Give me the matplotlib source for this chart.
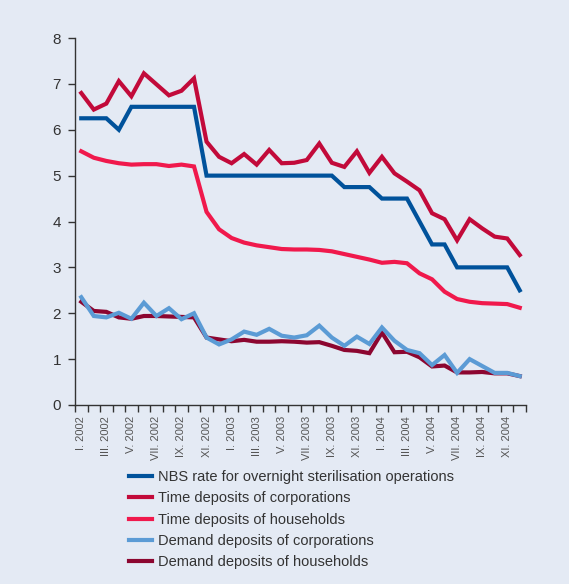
import matplotlib
matplotlib.use("Agg")
import matplotlib.pyplot as plt
import numpy as np

months = ["I", "II", "III", "IV", "V", "VI", "VII", "VIII", "IX", "X", "XI", "XII"]
years = [2002, 2003, 2004]
periods = [f"{m}. {y}" for y in years for m in months]

nbs_rate = [6.25, 6.25, 6.25, 6.0, 6.5, 6.5, 6.5, 6.5, 6.5, 6.5, 5.0, 5.0,
            5.0, 5.0, 5.0, 5.0, 5.0, 5.0, 5.0, 5.0, 5.0, 4.75, 4.75, 4.75,
            4.5, 4.5, 4.5, 4.0, 3.5, 3.5, 3.0, 3.0, 3.0, 3.0, 3.0, 2.5]
time_corp = [6.80, 6.44, 6.57, 7.06, 6.73, 7.23, 6.99, 6.75, 6.85, 7.12, 5.74, 5.41,
             5.27, 5.47, 5.24, 5.56, 5.27, 5.28, 5.34, 5.70, 5.28, 5.19, 5.53, 5.06,
             5.41, 5.05, 4.87, 4.68, 4.18, 4.05, 3.59, 4.05, 3.85, 3.67, 3.63, 3.27]
time_hh = [5.53, 5.39, 5.32, 5.27, 5.24, 5.25, 5.25, 5.21, 5.24, 5.20, 4.21, 3.83,
           3.64, 3.54, 3.48, 3.44, 3.40, 3.39, 3.39, 3.38, 3.35, 3.29, 3.23, 3.17,
           3.10, 3.12, 3.09, 2.87, 2.74, 2.47, 2.31, 2.25, 2.22, 2.21, 2.20, 2.12]
demand_corp = [2.35, 1.94, 1.91, 2.01, 1.88, 2.23, 1.94, 2.11, 1.87, 2.00, 1.47, 1.32,
               1.43, 1.60, 1.53, 1.66, 1.51, 1.47, 1.52, 1.73, 1.47, 1.29, 1.49, 1.33,
               1.69, 1.40, 1.20, 1.13, 0.87, 1.09, 0.70, 1.00, 0.85, 0.70, 0.70, 0.63]
demand_hh = [2.25, 2.05, 2.03, 1.91, 1.88, 1.94, 1.94, 1.93, 1.92, 1.91, 1.47, 1.43,
             1.39, 1.42, 1.38, 1.38, 1.39, 1.38, 1.36, 1.37, 1.29, 1.20, 1.18, 1.13,
             1.58, 1.15, 1.16, 1.04, 0.84, 0.86, 0.71, 0.71, 0.72, 0.69, 0.69, 0.63]

series = [
    ("NBS rate for overnight sterilisation operations", nbs_rate, "#00529B", 3),
    ("Time deposits of corporations", time_corp, "#C20A3A", 3),
    ("Time deposits of households", time_hh, "#F0194C", 3),
    ("Demand deposits of corporations", demand_corp, "#5B9BD5", 5),
    ("Demand deposits of households", demand_hh, "#8C0630", 4),
]

bg = "#E4EAF4"
plt.rcParams["font.family"] = ["Liberation Sans", "DejaVu Sans"]

fig = plt.figure(figsize=(5.69, 5.84), dpi=100, facecolor=bg)
ax = fig.add_axes([75 / 569, 1 - 405 / 584, 451 / 569, 367 / 584], facecolor=bg)

x = np.arange(len(periods))
for label, vals, color, z in series:
    ax.plot(x, vals, color=color, lw=3.0, label=label, zorder=z,
            solid_joinstyle="miter")

ax.set_xlim(-0.5, len(periods) - 0.5)
ax.set_ylim(0, 8)
ax.set_yticks(range(0, 9))
ax.tick_params(axis="y", direction="out", length=5, width=1, labelsize=11,
               colors="#333333", pad=5)

ax.set_xticks(x[::2])
ax.set_xticklabels(periods[::2], rotation=90, fontsize=8, color="#555555")
ax.set_xticks(np.arange(-0.5, len(periods), 1), minor=True)
ax.tick_params(axis="x", which="major", length=0, pad=8)
ax.tick_params(axis="x", which="minor", direction="out", length=5, width=1,
               color="#333333")

for side in ("top", "right"):
    ax.spines[side].set_visible(False)
for side in ("left", "bottom"):
    ax.spines[side].set_color("#333333")
    ax.spines[side].set_linewidth(1)

fig.legend(loc="upper left", bbox_to_anchor=(116 / 569, 1 - 457 / 584),
           frameon=False, fontsize=10.5, handlelength=1.6, handletextpad=0.35,
           labelspacing=0.5, labelcolor="#333333")

fig.savefig("out.png", dpi=100, facecolor=bg)
